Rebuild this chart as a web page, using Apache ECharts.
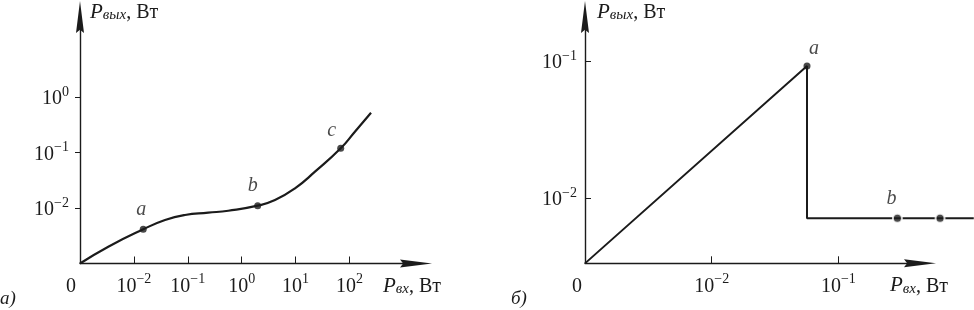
<!DOCTYPE html>
<html>
<head>
<meta charset="utf-8">
<script src="https://cdn.jsdelivr.net/npm/echarts@6/dist/echarts.min.js"></script>
<style>
html,body{margin:0;padding:0;background:#fff;}
#c{width:974px;height:310px;}
</style>
</head>
<body>
<div id="c"></div>
<script>
// ---------- data (watts) ----------
// Panel a): smooth curve P_out(P_in)
const leftPin  = [0.001, 0.00335, 0.0149, 0.0378, 0.0887, 0.240, 0.564, 1.98, 4.15, 9.75, 22.9, 68.7, 126, 251];
const leftPout = [0.001, 0.00201, 0.00413, 0.00608, 0.00748, 0.00822, 0.00893, 0.0110, 0.0139, 0.0226, 0.0451, 0.119, 0.237, 0.521];
const leftMarkNames = ['a', 'b', 'c'];
const leftMarkPin   = [0.0149, 1.98, 68.7];
const leftMarkPout  = [0.00413, 0.0110, 0.119];
const leftXTickExp  = [-2, -1, 0, 1, 2];
const leftYTickExp  = [-2, -1, 0];
const leftOrigin    = -3;   // log10 value drawn at the "0" origin

// Panel б): rise, drop, flat
const rightPin  = [0.001, 0.0565, 0.0565, 1.17];
const rightPout = [0.00333, 0.092, 0.00711, 0.00711];
const rightMarkNames = ['a', 'b', ''];
const rightMarkPin   = [0.0565, 0.292, 0.634];
const rightMarkPout  = [0.092, 0.00711, 0.00711];
const rightXTickExp  = [-2, -1];
const rightYTickExp  = [-2, -1];
const rightOrigin    = -3;

// ---------- helpers ----------
const lg = v => Math.log10(v);
const serif = '"Liberation Serif", "DejaVu Serif", serif';
const ink = '#1b1b1b';

const tickRich = {
  b: {fontFamily: serif, fontSize: 20, color: ink, lineHeight: 24, verticalAlign: 'bottom'},
  s: {fontFamily: serif, fontSize: 14, color: ink, lineHeight: 14, verticalAlign: 'bottom', padding: [0, 0, 10, 0]},
  z0: {fontFamily: serif, fontSize: 20, color: ink, lineHeight: 24, verticalAlign: 'bottom', padding: [0, 18, 0, 0]},
  z1: {fontFamily: serif, fontSize: 20, color: ink, lineHeight: 24, verticalAlign: 'bottom', padding: [0, 16, 0, 0]}
};
function powLabel(e){ return '{b|10}{s|' + (e < 0 ? '\u2212' + (-e) : e) + '}'; }

const nameRich = {
  p: {fontFamily: serif, fontStyle: 'italic', fontSize: 21, color: ink, verticalAlign: 'bottom', lineHeight: 24},
  sub: {fontFamily: serif, fontStyle: 'italic', fontSize: 15, color: ink, verticalAlign: 'bottom', lineHeight: 15},
  c: {fontFamily: serif, fontSize: 20, color: ink, verticalAlign: 'bottom', lineHeight: 24}
};

const arrow = 'path://M5,0L10,40L5,36L0,40Z';
function axisLine(){
  return {show: true, onZero: false, symbol: ['none', arrow], symbolSize: [8, 34],
          lineStyle: {color: ink, width: 1.4}};
}
const hidden = {show: false};

function series(pin, pout){ return pin.map((x, i) => [lg(x), lg(pout[i])]); }
function marks(names, pin, pout){ return names.map((n, i) => ({name: n, value: [lg(pin[i]), lg(pout[i])]})); }

const leftMarks = marks(leftMarkNames, leftMarkPin, leftMarkPout);
leftMarks[0].label = {offset: [-2, -2]};
leftMarks[1].label = {offset: [-5, -2]};
leftMarks[2].label = {offset: [-9, 0]};
const rightMarks = marks(rightMarkNames, rightMarkPin, rightMarkPout);
rightMarks[0].label = {offset: [7, 0]};
rightMarks[0].symbolSize = 7;
rightMarks[0].itemStyle = {borderWidth: 0};
rightMarks[1].label = {offset: [-6, 0]};

const markLabel = {show: true, position: 'top', distance: 4, formatter: p => p.name,
  fontFamily: serif, fontStyle: 'italic', fontSize: 20, color: ink};

// right panel scale: 126.7 px per decade in x, 137 px per decade in y
const rXmin = rightOrigin, rXmax = -0.356, rXext = 0.070;
const rYmin = -2.477, rYmax = -0.679;

const chart = echarts.init(document.getElementById('c'), null, {renderer: 'canvas'});
chart.setOption({
  animation: false,
  backgroundColor: '#fff',
  grid: [
    {left: 80, top: 17, width: 336, height: 246.5},
    {left: 585, top: 17, width: 335, height: 246.3},
    {left: 585, top: 17, width: 389, height: 246.3}   // same scale, extended to the right edge
  ],
  xAxis: [
    {gridIndex: 0, type: 'value', min: leftOrigin, max: 3.234,
     axisLine: axisLine(), splitLine: {show: false},
     axisTick: {show: true, inside: true, length: 7, customValues: leftXTickExp, lineStyle: {color: ink, width: 1}},
     axisLabel: {show: true, margin: 9, customValues: [leftOrigin].concat(leftXTickExp), rich: tickRich,
       formatter: v => v === leftOrigin ? '{z0|0}' : powLabel(v)},
     name: '{p|P}{sub|вх}{c|, Вт}', nameLocation: 'end', nameGap: -33,
     nameTextStyle: {align: 'left', verticalAlign: 'middle', padding: [42, 0, 0, 0], rich: nameRich}},
    {gridIndex: 1, type: 'value', min: rXmin, max: rXmax,
     axisLine: axisLine(), splitLine: {show: false},
     axisTick: {show: true, inside: true, length: 7, customValues: rightXTickExp, lineStyle: {color: ink, width: 1}},
     axisLabel: {show: true, margin: 9, customValues: [rightOrigin].concat(rightXTickExp), rich: tickRich,
       formatter: v => v === rightOrigin ? '{z1|0}' : powLabel(v)},
     name: '{p|P}{sub|вх}{c|, Вт}', nameLocation: 'end', nameGap: -30,
     nameTextStyle: {align: 'left', verticalAlign: 'middle', padding: [42, 0, 0, 0], rich: nameRich}},
    {gridIndex: 2, type: 'value', min: rXmin, max: rXext, show: false,
     axisLine: hidden, axisTick: hidden, axisLabel: hidden, splitLine: hidden}
  ],
  yAxis: [
    {gridIndex: 0, type: 'value', min: -3, max: 1.441,
     axisLine: axisLine(), splitLine: {show: false},
     axisTick: {show: true, inside: false, length: 5, customValues: leftYTickExp, lineStyle: {color: ink, width: 1}},
     axisLabel: {show: true, margin: 11, customValues: leftYTickExp, rich: tickRich, formatter: v => powLabel(v)},
     name: '{p|P}{sub|вых}{c|, Вт}', nameLocation: 'end', nameGap: 6,
     nameTextStyle: {align: 'left', verticalAlign: 'middle', padding: [0, 0, 0, 10], rich: nameRich}},
    {gridIndex: 1, type: 'value', min: rYmin, max: rYmax,
     axisLine: axisLine(), splitLine: {show: false},
     axisTick: {show: true, inside: true, length: 6, customValues: rightYTickExp, lineStyle: {color: ink, width: 1}},
     axisLabel: {show: true, margin: 8, customValues: rightYTickExp, rich: tickRich, formatter: v => powLabel(v)},
     name: '{p|P}{sub|вых}{c|, Вт}', nameLocation: 'end', nameGap: 6,
     nameTextStyle: {align: 'left', verticalAlign: 'middle', padding: [0, 0, 0, 12], rich: nameRich}},
    {gridIndex: 2, type: 'value', min: rYmin, max: rYmax, show: false,
     axisLine: hidden, axisTick: hidden, axisLabel: hidden, splitLine: hidden}
  ],
  series: [
    {type: 'line', xAxisIndex: 0, yAxisIndex: 0, data: series(leftPin, leftPout),
     smooth: 0.5, showSymbol: false, lineStyle: {color: ink, width: 2.2}, z: 3},
    {type: 'scatter', xAxisIndex: 0, yAxisIndex: 0, data: leftMarks, symbolSize: 7,
     itemStyle: {color: ink}, label: markLabel, z: 5},
    {type: 'line', xAxisIndex: 2, yAxisIndex: 2, data: series(rightPin, rightPout),
     showSymbol: false, lineStyle: {color: ink, width: 2}, z: 3},
    {type: 'scatter', xAxisIndex: 2, yAxisIndex: 2, data: rightMarks, symbolSize: 9,
     itemStyle: {color: ink, borderColor: '#fff', borderWidth: 2}, label: markLabel, z: 5}
  ],
  graphic: [
    {type: 'text', left: 0, top: 289, style: {text: 'а)', font: 'italic 19px ' + serif, fill: ink}},
    {type: 'text', left: 511, top: 289, style: {text: 'б)', font: 'italic 19px ' + serif, fill: ink}}
  ]
});
</script>
</body>
</html>
